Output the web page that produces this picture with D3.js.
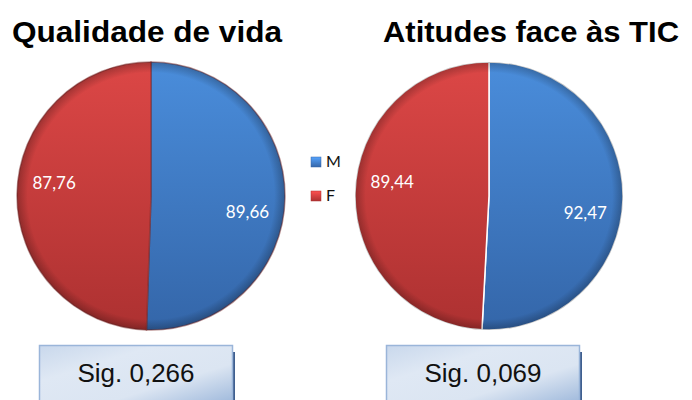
<!DOCTYPE html>
<html>
<head>
<meta charset="utf-8">
<script src="https://cdn.jsdelivr.net/npm/d3@7"></script>
<style>
  body { margin: 0; background: #fff; }
  svg { display: block; }
</style>
</head>
<body>
<div id="chart"></div>
<script>
// data
const titles = ['Qualidade de vida', 'Atitudes face às TIC'];
const categories = ['M', 'F'];
const qualidadeValues = [89.66, 87.76];
const atitudesValues = [92.47, 89.44];
const sigLabels = ['Sig. 0,266', 'Sig. 0,069'];

const width = 692, height = 400;
const colors = {
  M: ['#4a8ddb', '#3466a9'],
  F: ['#dc4746', '#ad3131']
};

const svg = d3.select('#chart').append('svg')
  .attr('width', width)
  .attr('height', height);

const defs = svg.append('defs');

categories.forEach(c => {
  const g = defs.append('linearGradient')
    .attr('id', 'grad-' + c)
    .attr('x1', 0).attr('y1', 0).attr('x2', 0).attr('y2', 1);
  g.append('stop').attr('offset', '0%').attr('stop-color', colors[c][0]);
  g.append('stop').attr('offset', '100%').attr('stop-color', colors[c][1]);

  const lg = defs.append('linearGradient')
    .attr('id', 'leg-' + c)
    .attr('x1', 0).attr('y1', 0).attr('x2', 0).attr('y2', 1);
  lg.append('stop').attr('offset', '0%').attr('stop-color', d3.color(colors[c][0]).brighter(0.4));
  lg.append('stop').attr('offset', '100%').attr('stop-color', colors[c][1]);
});

// bevel rim
const rim = defs.append('radialGradient').attr('id', 'rim');
rim.append('stop').attr('offset', '0%').attr('stop-color', '#000').attr('stop-opacity', 0);
rim.append('stop').attr('offset', '92%').attr('stop-color', '#000').attr('stop-opacity', 0);
rim.append('stop').attr('offset', '100%').attr('stop-color', '#000').attr('stop-opacity', 0.25);

const boxGrad = defs.append('linearGradient')
  .attr('id', 'boxGrad')
  .attr('x1', 0).attr('y1', 0).attr('x2', 1).attr('y2', 1);
boxGrad.append('stop').attr('offset', '0%').attr('stop-color', '#c9d8ec');
boxGrad.append('stop').attr('offset', '30%').attr('stop-color', '#dfe8f4');
boxGrad.append('stop').attr('offset', '65%').attr('stop-color', '#dbe5f2');
boxGrad.append('stop').attr('offset', '100%').attr('stop-color', '#9bb6da');

const radius = 134;
const pie = d3.pie().sort(null).value(d => d.value);
const arc = d3.arc().innerRadius(0).outerRadius(radius);
const labelArc = d3.arc().innerRadius(radius * 0.73).outerRadius(radius * 0.73);
// excel nudges labels a little around the slice
const labelTurn = { M: 0.15, F: 0.12 };

const charts = [
  { title: titles[0], values: qualidadeValues, sig: sigLabels[0], cx: 151, titleX: 147, titleW: 270, boxX: 39, sep: 'rgba(120,40,40,0.5)' },
  { title: titles[1], values: atitudesValues, sig: sigLabels[1], cx: 489, titleX: 531, titleW: 296, boxX: 386, sep: '#fff' }
];

charts.forEach(ch => {
  const data = categories.map((c, i) => ({ cat: c, value: ch.values[i] }));

  svg.append('text')
    .attr('x', ch.titleX)
    .attr('y', 42)
    .attr('text-anchor', 'middle')
    .style('font-family', '"Liberation Sans", Arial, sans-serif')
    .style('font-weight', 'bold')
    .style('font-size', '30px')
    .attr('textLength', ch.titleW)
    .attr('lengthAdjust', 'spacingAndGlyphs')
    .text(ch.title);

  const g = svg.append('g')
    .attr('transform', `translate(${ch.cx},196)`);

  const arcs = pie(data);

  g.selectAll('.slice')
    .data(arcs)
    .enter().append('path')
    .attr('class', 'slice')
    .attr('d', arc)
    .attr('fill', d => `url(#grad-${d.data.cat})`)
    .attr('stroke', ch.sep)
    .attr('stroke-width', 1.5);

  g.append('circle')
    .attr('r', radius)
    .attr('fill', 'url(#rim)')
    .attr('pointer-events', 'none');

  g.selectAll('.lbl')
    .data(arcs)
    .enter().append('text')
    .attr('class', 'lbl')
    .attr('transform', d => {
      const a = (d.startAngle + d.endAngle) / 2 + labelTurn[d.data.cat];
      const p = labelArc.centroid({ startAngle: a, endAngle: a });
      return `translate(${p[0]},${p[1]})`;
    })
    .attr('text-anchor', 'middle')
    .attr('dy', '0.35em')
    .attr('fill', '#fff')
    .style('font-family', 'Lato, "Open Sans", sans-serif')
    .style('font-size', '17px')
    .text(d => d3.format('.2f')(d.data.value).replace('.', ','));

  // significance box
  const bw = 193, bh = 60, by = 345;
  svg.append('rect')
    .attr('x', ch.boxX + 3).attr('y', by + 7)
    .attr('width', bw).attr('height', bh)
    .attr('fill', '#3f5f8f');
  svg.append('rect')
    .attr('x', ch.boxX + 0.5).attr('y', by + 0.5)
    .attr('width', bw).attr('height', bh)
    .attr('fill', 'url(#boxGrad)')
    .attr('stroke', '#9ab5d9')
    .attr('stroke-width', 1.5);
  svg.append('text')
    .attr('x', ch.boxX + bw / 2 + 0.5)
    .attr('y', 382)
    .attr('text-anchor', 'middle')
    .style('font-family', '"Liberation Sans", Arial, sans-serif')
    .style('font-size', '26px')
    .attr('fill', '#111')
    .text(ch.sig);
});

// legend
const legend = svg.append('g').attr('transform', 'translate(311,157)');
const items = legend.selectAll('g')
  .data(categories)
  .enter().append('g')
  .attr('transform', (d, i) => `translate(0,${i * 34})`);
items.append('rect')
  .attr('width', 10).attr('height', 10)
  .attr('fill', d => `url(#leg-${d})`)
  .attr('stroke', d => colors[d][1])
  .attr('stroke-width', 0.5);
items.append('text')
  .attr('x', 15)
  .attr('y', 10)
  .style('font-family', 'Lato, "Open Sans", sans-serif')
  .style('font-size', '16px')
  .attr('fill', '#111')
  .text(d => d);
</script>
</body>
</html>
